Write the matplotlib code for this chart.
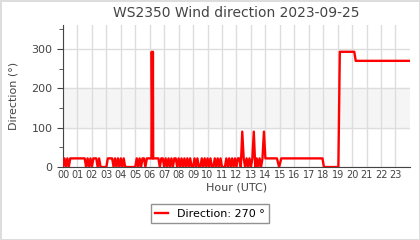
import numpy as np
import matplotlib
matplotlib.use('Agg')
import matplotlib.pyplot as plt
from matplotlib.ticker import MultipleLocator

# noisy part, 0.1 h steps from 00:00 to 13:90
noisy = [
  0, 22, 0, 22, 0, 22, 22, 22, 22, 22,    # 00
  22, 22, 22, 22, 22, 22, 0, 22, 0, 22,   # 01
  0, 22, 22, 22, 0, 22, 0, 0, 0, 0,       # 02
  0, 22, 22, 22, 22, 0, 22, 0, 22, 0,     # 03
  22, 0, 22, 0, 0, 0, 0, 0, 0, 0,         # 04
  0, 22, 0, 22, 0, 22, 22, 0, 22, 22,     # 05
  22, 22, 22, 22, 22, 22, 22, 0, 22, 22,  # 06 (spike added below)
  0, 22, 0, 22, 0, 22, 0, 22, 22, 0,      # 07
  22, 0, 22, 0, 22, 0, 22, 0, 22, 0,      # 08
  0, 22, 0, 22, 0, 0, 22, 0, 22, 0,       # 09
  22, 0, 22, 0, 0, 22, 0, 22, 0, 22,      # 10
  0, 0, 0, 22, 0, 22, 0, 22, 0, 22,       # 11
  0, 22, 22, 0, 90, 22, 0, 22, 0, 22,     # 12
  0, 22, 90, 0, 22, 0, 22, 0, 22, 90,     # 13
]
noisy_t = [i * 0.1 for i in range(len(noisy))]

# spike at ~06:10
spike_t = [6.12, 6.14, 6.22, 6.24]
spike_v = [22, 293, 293, 22]

# calmer part after 14:00
tail_t = [14.0, 14.8, 14.95, 15.1, 17.95, 18.05, 19.05, 19.15, 20.15, 20.25, 24.0]
tail_v = [22, 22, 0, 22, 22, 0, 0, 293, 293, 270, 270]

t = np.array(noisy_t + spike_t + tail_t)
v = np.array(noisy + spike_v + tail_v)
order = np.argsort(t, kind='stable')
t, v = t[order], v[order]

hours = ['%02d' % h for h in range(24)]

fig = plt.figure(figsize=(4.2, 2.4), dpi=100, edgecolor='#dddddd', linewidth=1)
ax = fig.add_axes([0.15, 0.304, 0.826, 0.59])

ax.axhspan(100, 200, color='#f5f5f5', zorder=0)
ax.plot(t, v, color='#ff0000', lw=1.7, label='Direction: 270 °', zorder=3)

ax.set_xlim(0, 24)
ax.set_ylim(0, 360)
ax.set_xticks(range(24))
ax.set_xticklabels(hours)
ax.set_yticks([0, 100, 200, 300])
ax.yaxis.set_minor_locator(MultipleLocator(50))
ax.grid(True, which='major', color='#dddddd', lw=1, zorder=1)
ax.set_axisbelow(True)

for s in ['top', 'right']:
  ax.spines[s].set_visible(False)
ax.spines['left'].set_color('#444444')
ax.spines['bottom'].set_color('#444444')
ax.tick_params(axis='x', length=0, labelsize=7, colors='#444444', pad=2)
ax.tick_params(axis='y', which='major', length=4, labelsize=8, colors='#444444')
ax.tick_params(axis='y', which='minor', length=3, colors='#444444')

ax.set_title('WS2350 Wind direction 2023-09-25', fontsize=10, color='#444444', pad=6)
ax.set_xlabel('Hour (UTC)', fontsize=8, color='#444444', labelpad=2)
ax.set_ylabel('Direction (°)', fontsize=8, color='#444444', labelpad=9)

fig.legend(loc='center', bbox_to_anchor=(0.5, 0.11), fontsize=8, frameon=True,
           fancybox=False, edgecolor='#777777', handlelength=1.2)

plt.savefig('out.png', dpi=100, edgecolor=fig.get_edgecolor())
